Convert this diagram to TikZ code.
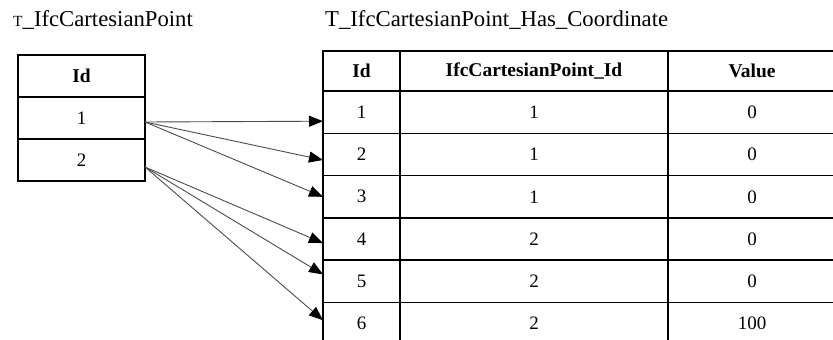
\documentclass[tikz,border=0pt]{standalone}
\usepackage{fontspec}
\setmainfont{Liberation Serif}
\usepackage{tikz}
\usetikzlibrary{arrows.meta}

\begin{document}
\begin{tikzpicture}[
  x=1pt,
  y=-1pt,
  >={Triangle[length=14pt,width=11pt,color=black]},
  title/.style={anchor=base west, inner sep=0pt, font=\fontsize{22.7}{22.7}\selectfont},
  cell/.style={draw=black, line width=1.6pt, inner sep=0pt, outer sep=0pt,
    minimum height=42.3pt, font=\fontsize{19}{19}\selectfont},
  head/.style={cell, font=\fontsize{19.5}{19.5}\selectfont\bfseries},
  link/.style={->, line width=0.9pt, draw=black!70}
]
\clip (0,0) rectangle (833,340);

\node[title] (tpt) at (13,26) {{\fontsize{15.5}{15.5}\selectfont T}\_IfcCartesianPoint};
\node[title] (tco) at (325,26) {T\_IfcCartesianPoint\_Has\_Coordinate};

% left table
\node[head, minimum width=127pt, minimum height=42pt] (idHead) at (81.5,76) {Id};
\node[cell, minimum width=127pt, minimum height=42pt] (id1) at (81.5,118) {1};
\node[cell, minimum width=127pt, minimum height=42pt] (id2) at (81.5,160) {2};

% right table
\node[head, minimum width=77pt, minimum height=40pt] (hId) at (361.5,71) {Id};
\node[head, minimum width=268pt, minimum height=40pt] (hPt) at (534,71) {IfcCartesianPoint\_Id};
\node[head, minimum width=168pt, minimum height=40pt] (hVal) at (752,71) {Value};

\node[cell, minimum width=77pt] (r1) at (361.5,112.2) {1};
\node[cell, minimum width=268pt] (p1) at (534,112.2) {1};
\node[cell, minimum width=168pt] (v1) at (752,112.2) {0};

\node[cell, minimum width=77pt] (r2) at (361.5,154.5) {2};
\node[cell, minimum width=268pt] (p2) at (534,154.5) {1};
\node[cell, minimum width=168pt] (v2) at (752,154.5) {0};

\node[cell, minimum width=77pt] (r3) at (361.5,196.8) {3};
\node[cell, minimum width=268pt] (p3) at (534,196.8) {1};
\node[cell, minimum width=168pt] (v3) at (752,196.8) {0};

\node[cell, minimum width=77pt] (r4) at (361.5,239.1) {4};
\node[cell, minimum width=268pt] (p4) at (534,239.1) {2};
\node[cell, minimum width=168pt] (v4) at (752,239.1) {0};

\node[cell, minimum width=77pt] (r5) at (361.5,281.4) {5};
\node[cell, minimum width=268pt] (p5) at (534,281.4) {2};
\node[cell, minimum width=168pt] (v5) at (752,281.4) {0};

\node[cell, minimum width=77pt] (r6) at (361.5,323.7) {6};
\node[cell, minimum width=268pt] (p6) at (534,323.7) {2};
\node[cell, minimum width=168pt] (v6) at (752,323.7) {100};

% references
\draw[link] ([yshift=-4pt]id1.east) -- ([yshift=-9pt]r1.west);
\draw[link] ([yshift=-4pt]id1.east) -- ([yshift=-5.5pt]r2.west);
\draw[link] ([yshift=-4pt]id1.east) -- (r3.west);
\draw[link] ([yshift=-7pt]id2.east) -- ([yshift=-4pt]r4.west);
\draw[link] ([yshift=-7pt]id2.east) -- ([yshift=7pt]r5.west);
\draw[link] ([yshift=-7pt]id2.east) -- ([yshift=3.5pt]r6.west);

\end{tikzpicture}
\end{document}
